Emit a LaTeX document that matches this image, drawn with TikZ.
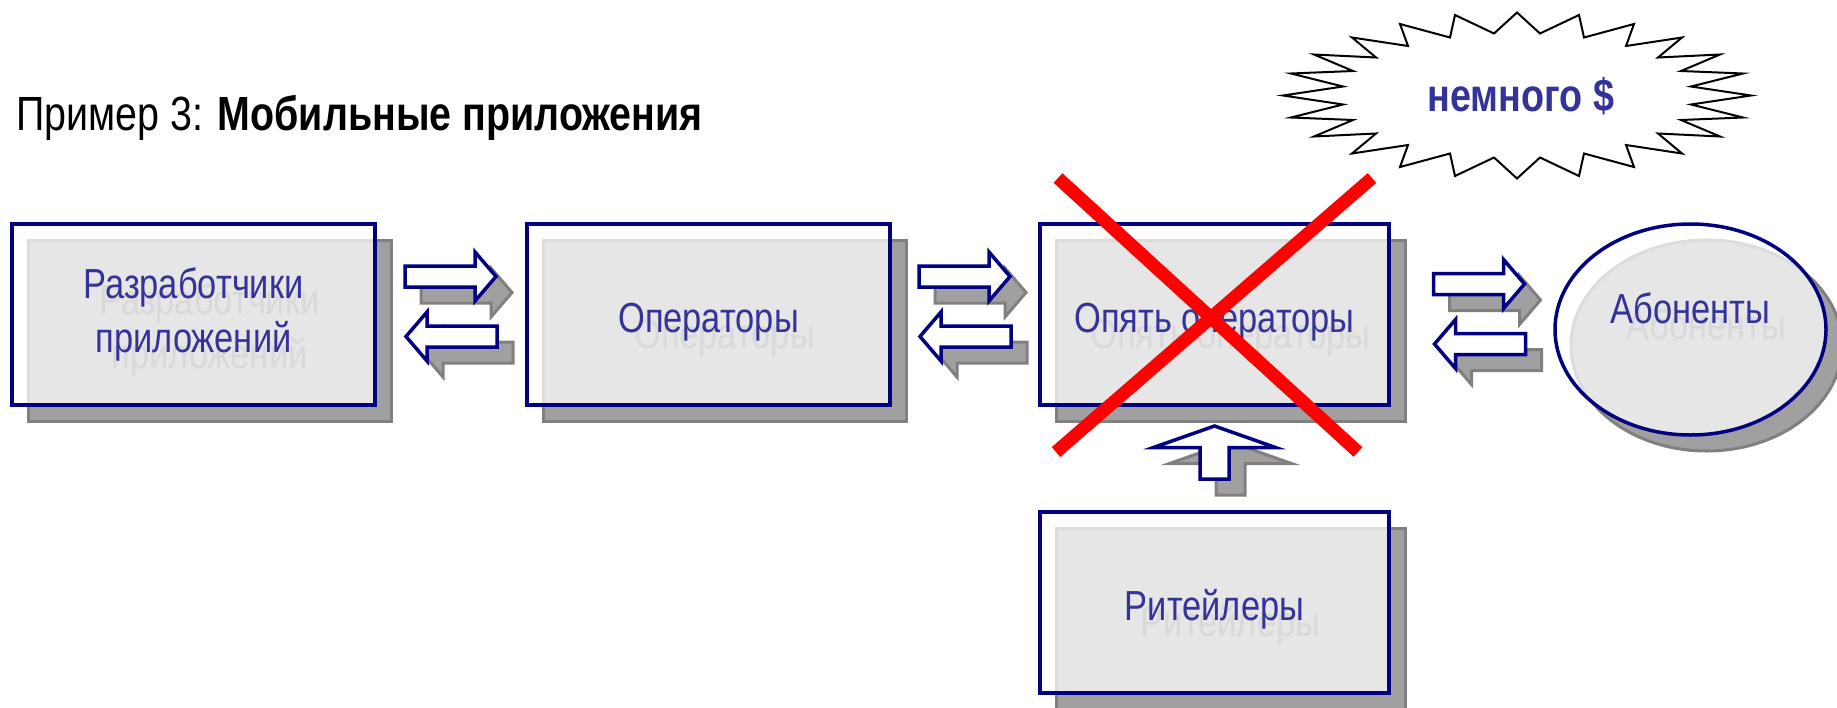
\documentclass[tikz,border=0pt]{standalone}
\usepackage{fontspec}
\setmainfont{Liberation Sans}
\newfontfamily\narrowfont[FakeStretch=0.82]{Liberation Sans}
\usetikzlibrary{calc,shadows,shapes.geometric}

\definecolor{navy}{HTML}{000080}
\definecolor{txtblue}{HTML}{333399}
\definecolor{shgray}{HTML}{A0A0A0}
\definecolor{shline}{HTML}{808080}
\definecolor{lightfill}{HTML}{E6E6E6}
\definecolor{lightline}{HTML}{DCDCDC}
\definecolor{ghostgray}{HTML}{D9D9D9}

\newcommand{\boxfont}{\narrowfont\fontsize{21pt}{27pt}\selectfont}

\tikzset{
  boxinner/.style n args={2}{path picture={
      \filldraw[fill=lightfill,draw=lightline,line width=1.5pt]
        ($(path picture bounding box.north west)+(8pt,-8pt)$) rectangle (path picture bounding box.south east);
      \node[ghosttext,#2] at ($(path picture bounding box.center)+(8pt,-8pt)$) {#1};
    },#2},
  ovalinner/.style n args={2}{path picture={
      \filldraw[fill=lightfill,draw=lightline,line width=1.5pt]
        ($(path picture bounding box.center)+(8pt,-8pt)$) ellipse [x radius=67.75pt,y radius=52.75pt];
      \node[ghosttext,#2] at ($(path picture bounding box.center)+(8pt,-8pt)$) {#1};
    },#2},
  harrow/.pic={
    \filldraw[arrshadow,shift={(16,16)},xscale=#1] (-46,-10.5) -- (24,-10.5) -- (24,-24.5) -- (45,0)
      -- (24,24.5) -- (24,10.5) -- (-46,10.5) -- cycle;
    \filldraw[arrbody,xscale=#1] (-46,-10.5) -- (24,-10.5) -- (24,-24.5) -- (45,0)
      -- (24,24.5) -- (24,10.5) -- (-46,10.5) -- cycle;
  },
  varrow/.pic={
    \filldraw[arrshadow,shift={(16,16)}] (-14.5,26.5) -- (-14.5,-5) -- (-61,-5) -- (0,-26.5)
      -- (61,-5) -- (14.5,-5) -- (14.5,26.5) -- cycle;
    \filldraw[arrbody] (-14.5,26.5) -- (-14.5,-5) -- (-61,-5) -- (0,-26.5)
      -- (61,-5) -- (14.5,-5) -- (14.5,26.5) -- cycle;
  },
}

\begin{document}
\begin{tikzpicture}[x=0.5pt,y=-0.5pt]
\tikzstyle{box}=[rectangle,draw=navy,line width=1.75pt,fill=white,inner sep=0pt,
  minimum width=181.5pt,minimum height=90.5pt,text=txtblue,font=\boxfont,align=center,
  drop shadow={shadow xshift=8pt,shadow yshift=-8pt,opacity=1,fill=shgray,draw=shline,line width=1.5pt}]
\tikzstyle{oval}=[box,ellipse,minimum width=135.5pt,minimum height=105.5pt]
\tikzstyle{ghosttext}=[text=ghostgray,font=\boxfont,align=center,inner sep=0pt]
\tikzstyle{oneline}=[text height=17.5pt,text depth=0pt]
\tikzstyle{arrshadow}=[fill=shgray,draw=shline,line width=1.5pt]
\tikzstyle{arrbody}=[fill=white,draw=navy,line width=1.75pt]
\tikzstyle{cross}=[red,line width=6.5pt]
\tikzstyle{burst}=[draw=black,fill=white,line width=1pt]

\useasboundingbox (0,0) rectangle (1837,707);

\node[anchor=base west,inner sep=0pt,font=\narrowfont\fontsize{24pt}{28pt}\selectfont] (title) at (16,130)
  {Пример 3: \textbf{Мобильные приложения}};

\node[box,boxinner={Разработчики\\приложений}{}] (dev) at (193.5,314.5) {Разработчики\\приложений};
\node[box,boxinner={Операторы}{oneline}] (ops) at (708.5,314.5) {Операторы};
\node[box,minimum width=174.5pt,boxinner={Опять операторы}{oneline}] (opp) at (1214.5,314.5) {Опять операторы};
\node[box,minimum width=174.5pt,boxinner={Ритейлеры}{oneline}] (ret) at (1214.5,602.5) {Ритейлеры};
\node[oval,minimum height=105.5pt,ovalinner={Абоненты}{text height=10pt,text depth=16.5pt}] (abo) at (1690.5,329.5) {Абоненты};

\pic at ($(dev.east)!.5!(ops.west)+(0,-38)$) {harrow=1};
\pic at ($(dev.east)!.5!(ops.west)+(0,22)$) {harrow=-1};
\pic at ($(ops.east)!.5!(opp.west)+(0,-38)$) {harrow=1};
\pic at ($(ops.east)!.5!(opp.west)+(0,22)$) {harrow=-1};
\pic at ($(opp.east)!.5!(abo.west)+(7.5,-38)$) {harrow=1};
\pic at ($(opp.east)!.5!(abo.west)+(7.5,22)$) {harrow=-1};
\pic at ($(ret.north)!.5!(opp.south)+(0,-6)$) {varrow};

\draw[cross] (1058,178) -- (1358,452);
\draw[cross] (1372,178) -- (1056,452);

\begin{scope}[shift={(1517,95.5)}]
\draw[burst] (0,-83) -- (-23,-62) -- (-62,-80.5) -- (-67,-58) -- (-117,-71.5) -- (-109,-49.5)
  -- (-165,-58) -- (-141,-38) -- (-203,-41) -- (-164,-24.5) -- (-226,-22) -- (-174,-9)
  -- (-234,0) -- (-174,9) -- (-226,22) -- (-164,24.5) -- (-203,41) -- (-141,38)
  -- (-165,58) -- (-109,49.5) -- (-117,71.5) -- (-67,58) -- (-62,80.5) -- (-23,62)
  -- (0,83) -- (23,62) -- (62,80.5) -- (67,58) -- (117,71.5) -- (109,49.5)
  -- (165,58) -- (141,38) -- (203,41) -- (164,24.5) -- (226,22) -- (174,9)
  -- (234,0) -- (174,-9) -- (226,-22) -- (164,-24.5) -- (203,-41) -- (141,-38)
  -- (165,-58) -- (109,-49.5) -- (117,-71.5) -- (67,-58) -- (62,-80.5) -- (23,-62) -- cycle;
\end{scope}
\node[text=txtblue,inner sep=0pt,font=\narrowfont\bfseries\fontsize{23pt}{27pt}\selectfont] (money) at (1521,96) {немного \$};
\end{tikzpicture}
\end{document}
